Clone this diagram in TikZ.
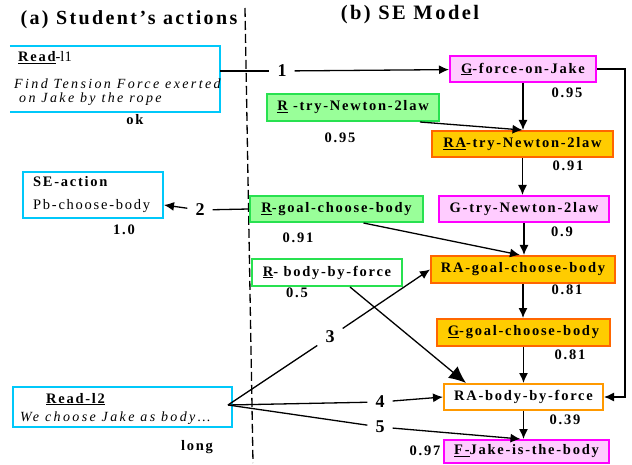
\documentclass[tikz,border=0pt]{standalone}
\usepackage{fontspec}
\setmainfont{Liberation Serif}
\newfontfamily\lsf[LetterSpace=12]{Liberation Serif}
\newfontfamily\lsi[LetterSpace=17]{Liberation Serif}
\newfontfamily\lst[LetterSpace=12]{Liberation Serif}
\usetikzlibrary{arrows.meta}
\definecolor{cyanB}{RGB}{0,200,250}
\definecolor{grF}{RGB}{153,255,153}
\definecolor{grB}{RGB}{40,225,80}
\definecolor{mgF}{RGB}{255,204,255}
\definecolor{mgB}{RGB}{255,0,255}
\definecolor{orF}{RGB}{255,204,0}
\definecolor{orB}{RGB}{255,102,0}
\definecolor{orL}{RGB}{255,153,0}
\tikzset{
  bx/.style={draw, line width=2pt, inner sep=0pt, anchor=center, font=\lsf\bfseries\fontsize{14.5}{15}\selectfont},
  cybox/.style={bx, draw=cyanB},
  grbox/.style={bx, draw=grB, fill=grF},
  grwbox/.style={bx, draw=grB, fill=white},
  mgbox/.style={bx, draw=mgB, fill=mgF},
  orbox/.style={bx, draw=orB, fill=orF},
  orwbox/.style={bx, draw=orL, fill=white},
  lbl/.style={inner sep=0pt, font=\lsf\bfseries\fontsize{14.5}{15}\selectfont},
  num/.style={inner sep=8pt, font=\bfseries\fontsize{18}{18}\selectfont},
  ln/.style={line width=1.3pt},
  arr/.style={line width=1.3pt, -{Latex[length=10pt,width=9pt]}},
  bigarr/.style={line width=1.3pt, -{Latex[length=17pt,width=15pt]}},
}
\begin{document}
\begin{tikzpicture}[x=1pt,y=-1pt]
\useasboundingbox[fill=white] (0,0) rectangle (632,465);
% titles
\node[inner sep=0pt, font=\lst\bfseries\fontsize{20}{20}\selectfont] (ta) at (129,20) {(a) Student’s actions};
\node[inner sep=0pt, font=\lst\bfseries\fontsize{20.5}{20}\selectfont] (tb) at (410,15) {(b) SE Model};
% dashed separator
\coordinate (d1) at (245,8);
\coordinate (d2) at (253,463);
\draw[ln, dash pattern=on 9pt off 4pt] (d1) -- (d2);
% left boxes
\node[inner sep=0pt, minimum width=210pt, minimum height=66pt] (read1) at (115,79) {};
\draw[line width=2pt, draw=cyanB] (read1.north west) -- (read1.north east) -- (read1.south east) -- (read1.south west);
\node[anchor=base west, inner sep=0pt, font=\fontsize{14.5}{15}\selectfont] (r1t) at (18,62) {\textbf{\lsf\underline{Read}}-l1};
\node[anchor=base west, inner sep=0pt, font=\lsi\itshape\fontsize{14}{15}\selectfont] (r1a) at (14,89) {Find Tension Force exerted};
\node[anchor=base west, inner sep=0pt, font=\lsi\itshape\fontsize{14}{15}\selectfont] (r1b) at (19,103) {on Jake by the rope};
\node[lbl] (ok) at (135,120) {ok};

\node[cybox, minimum width=140pt, minimum height=46pt] (seaction) at (93,195) {};
\node[anchor=base west, inner sep=0pt, font=\lsf\bfseries\fontsize{14.5}{15}\selectfont] (sea1) at (33,187) {SE-action};
\node[anchor=base west, inner sep=0pt, font=\lsf\fontsize{14.5}{15}\selectfont] (sea2) at (33,210) {Pb-choose-body};
\node[lbl] (v10) at (124,230) {1.0};

\node[cybox, minimum width=219pt, minimum height=40pt] (read2) at (122.5,407) {};
\node[anchor=base west, inner sep=0pt, font=\lsf\bfseries\fontsize{14.5}{15}\selectfont] (r2t) at (46,403) {\underline{Read-l2}};
\node[anchor=base west, inner sep=0pt, font=\lsi\itshape\fontsize{14}{15}\selectfont] (r2a) at (20,421) {We choose Jake as body…};
\node[lbl] (long) at (197,447) {long};

% right boxes
\node[mgbox, minimum width=146pt, minimum height=26pt] (gforce) at (523,69) {\underline{G}-force-on-Jake};
\node[grbox, minimum width=172pt, minimum height=27pt] (rtry) at (353,107.5) {\underline{R} -try-Newton-2law};
\node[orbox, minimum width=181pt, minimum height=26pt] (ratry) at (522.5,144) {\underline{RA}-try-Newton-2law};
\node[mgbox, minimum width=170pt, minimum height=26pt] (gtry) at (524,209) {G-try-Newton-2law};
\node[grbox, minimum width=173pt, minimum height=26pt] (rgoal) at (336.5,209) {\underline{R}-goal-choose-body};
\node[grwbox, minimum width=150pt, minimum height=27pt] (rbody) at (327,272.5) {\underline{R}- body-by-force};
\node[orbox, minimum width=184pt, minimum height=27pt] (ragoal) at (523,269.5) {RA-goal-choose-body};
\node[orbox, minimum width=173pt, minimum height=27pt] (ggoal) at (523.5,332.5) {\underline{G}-goal-choose-body};
\node[orwbox, minimum width=159pt, minimum height=26pt] (rabody) at (523.5,397) {RA-body-by-force};
\node[mgbox, minimum width=165pt, minimum height=23pt] (fjake) at (526.5,451.5) {\underline{F-}Jake-is-the-body};

% values
\node[lbl] (vg) at (567,93) {0.95};
\node[lbl] (vrt) at (340,138) {0.95};
\node[lbl] (vrat) at (568,166) {0.91};
\node[lbl] (vgt) at (562,232) {0.9};
\node[lbl] (vrg) at (298,238) {0.91};
\node[lbl] (vrb) at (297,293) {0.5};
\node[lbl] (vrag) at (567,290) {0.81};
\node[lbl] (vgg) at (570,355) {0.81};
\node[lbl] (vrab) at (565,420) {0.39};
\node[lbl] (vfj) at (425,451) {0.97};

% numbered links
\node[num] (n1) at (282,71) {1};
\draw[ln] (read1.east |- n1) -- (n1);
\draw[arr] (n1) -- (gforce);
\node[num] (n2) at (200,210) {2};
\draw[ln] (rgoal.west) -- (n2);
\draw[arr] (n2) -- ([yshift=-10pt]seaction.east);
\coordinate (o2) at (228,405);
\node[num] (n3) at (330,337) {3};
\draw[ln] (o2) -- (n3);
\draw[arr] (n3) -- (ragoal.west);
\node[num] (n4) at (380,402) {4};
\draw[ln] (o2) -- (n4);
\draw[arr] (n4) -- (rabody.west);
\node[num] (n5) at (380,427) {5};
\draw[ln] (o2) -- (n5);
\draw[arr] (n5) -- ([xshift=-6pt]fjake.north);

% model links
\draw[arr] (gforce.south) -- (gforce.south |- ratry.north);
\draw[arr] ([xshift=67pt]rtry.south) -- (ratry.north);
\draw[arr] (ratry.south) -- (ratry.south |- gtry.north);
\draw[arr] (gtry.south) -- (gtry.south |- ragoal.north);
\draw[arr] ([xshift=27pt]rgoal.south) -- ([xshift=-3pt]ragoal.north);
\draw[arr] (ragoal.south) -- (ragoal.south |- ggoal.north);
\draw[arr] (ggoal.south) -- (ggoal.south |- rabody.north);
\draw[bigarr] ([xshift=23pt]rbody.south) -- ([xshift=23pt]rabody.north west);
\draw[arr] (rabody.south) -- (rabody.south |- fjake.north);
\draw[arr] (gforce.east) -- ++(28,0) |- (rabody.east);
\end{tikzpicture}
\end{document}
